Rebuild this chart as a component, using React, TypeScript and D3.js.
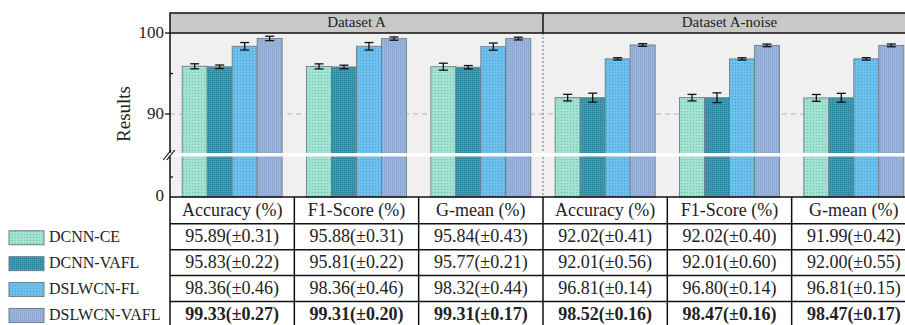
import React from "react";
import * as d3 from "d3";

// Metrics and datasets
const datasets = ["Dataset A", "Dataset A-noise"];
const metrics = ["Accuracy (%)", "F1-Score (%)", "G-mean (%)"];
const methods = ["DCNN-CE", "DCNN-VAFL", "DSLWCN-FL", "DSLWCN-VAFL"];

// Mean values per method, columns: A-Acc, A-F1, A-Gmean, N-Acc, N-F1, N-Gmean
const dcnnCE = [95.89, 95.88, 95.84, 92.02, 92.02, 91.99];
const dcnnCEStd = [0.31, 0.31, 0.43, 0.41, 0.4, 0.42];
const dcnnVAFL = [95.83, 95.81, 95.77, 92.01, 92.01, 92.0];
const dcnnVAFLStd = [0.22, 0.22, 0.21, 0.56, 0.6, 0.55];
const dslwcnFL = [98.36, 98.36, 98.32, 96.81, 96.8, 96.81];
const dslwcnFLStd = [0.46, 0.46, 0.44, 0.14, 0.14, 0.15];
const dslwcnVAFL = [99.33, 99.31, 99.31, 98.52, 98.47, 98.47];
const dslwcnVAFLStd = [0.27, 0.2, 0.17, 0.16, 0.16, 0.17];

const seriesMeans = [dcnnCE, dcnnVAFL, dslwcnFL, dslwcnVAFL];
const seriesStds = [dcnnCEStd, dcnnVAFLStd, dslwcnFLStd, dslwcnVAFLStd];

const upperTicks = [90, 100];
const upperMinor = [95];
const lowerTicks = [0];
const lowerMinor = [5];

const W = 905;
const H = 325;
const FONT = "'Liberation Serif', 'Times New Roman', serif";

const plotLeft = 170;
const headerTop = 13;
const plotTop = 33;
const plotBottom = 197;
const breakTop = 153;
const breakBottom = 156.5;

const fills = [
  { base: "#a2e2d2", dot: "#74bcab", step: 3 },
  { base: "#3a9eb6", dot: "#257a90", step: 2 },
  { base: "#6dbfec", dot: "#4a9dd0", step: 3 },
  { base: "#9bb5dc", dot: "#86a1cd", step: 2 },
];

export default function App() {
  const groups = d3.range(6).map(String);
  const step = 124.33;
  const x = d3
    .scaleBand<string>()
    .domain(groups)
    .range([plotLeft, plotLeft + step * 6])
    .paddingInner(0.196)
    .paddingOuter(0.098);
  const xs = d3.scaleBand<string>().domain(methods).range([0, x.bandwidth()]);

  const yUp = d3.scaleLinear().domain([85, 100]).range([154.5, plotTop]);
  const yLow = d3.scaleLinear().domain([0, 10]).range([plotBottom, 157]);

  const colLeft = (i: number) => plotLeft + i * x.step();
  const rightEdge = colLeft(6);

  const headerH = 26.8;
  const rowH = 25.9;
  const rowTop = (r: number) => (r === 0 ? plotBottom : plotBottom + headerH + (r - 1) * rowH);
  const rowMid = (r: number) => (r === 0 ? plotBottom + headerH / 2 : rowTop(r) + rowH / 2);

  const fmt = (v: number, s: number) => `${v.toFixed(2)}(±${s.toFixed(2)})`;

  return (
    <svg width={W} height={H} style={{ display: "block", position: "absolute", left: 0, top: 0 }}>
      <defs>
        {fills.map((f, i) => (
          <pattern key={i} id={`pat${i}`} width={f.step} height={f.step} patternUnits="userSpaceOnUse">
            <rect width={f.step} height={f.step} fill={f.base} />
            <rect x={0} y={0} width={1} height={1} fill={f.dot} />
            {i === 3 && <rect x={0} y={0} width={0.6} height={f.step} fill={f.dot} opacity={0.5} />}
          </pattern>
        ))}
      </defs>
      <rect width={W} height={H} fill="#fff" />

      {/* plot panel */}
      <rect x={plotLeft} y={plotTop} width={rightEdge - plotLeft} height={plotBottom - plotTop} fill="#f0f0f0" />

      {/* gridline at 90 */}
      {upperTicks
        .filter((t) => t < 100)
        .map((t) => (
          <line key={t} x1={plotLeft} x2={rightEdge} y1={yUp(t)} y2={yUp(t)} stroke="#b5b5b5" strokeDasharray="5,4" strokeWidth={1} />
        ))}

      {/* dataset separator */}
      <line x1={colLeft(3)} x2={colLeft(3)} y1={plotTop} y2={plotBottom} stroke="#9a9a9a" strokeDasharray="2,2" strokeWidth={1.5} />

      {/* bars */}
      {groups.map((g, gi) =>
        methods.map((m, si) => {
          const v = seriesMeans[si][gi];
          const bx = (x(g) as number) + (xs(m) as number);
          const bw = xs.bandwidth();
          return (
            <rect
              key={`${g}-${m}`}
              x={bx}
              y={yUp(v)}
              width={bw}
              height={plotBottom - yUp(v)}
              fill={`url(#pat${si})`}
              stroke="#6f7f86"
              strokeWidth={0.9}
            />
          );
        })
      )}

      {/* axis break band */}
      <rect x={plotLeft + 1} y={breakTop} width={rightEdge - plotLeft} height={breakBottom - breakTop} fill="#ffffff" />

      {/* error bars */}
      {groups.map((g, gi) =>
        methods.map((m, si) => {
          const v = seriesMeans[si][gi];
          const s = seriesStds[si][gi];
          const cx = (x(g) as number) + (xs(m) as number) + xs.bandwidth() / 2;
          const y1 = yUp(v + s);
          const y2 = yUp(v - s);
          return (
            <g key={`e-${g}-${m}`} stroke="#111" strokeWidth={1.3}>
              <line x1={cx} x2={cx} y1={y1} y2={y2} />
              <line x1={cx - 4.5} x2={cx + 4.5} y1={y1} y2={y1} />
              <line x1={cx - 4.5} x2={cx + 4.5} y1={y2} y2={y2} />
            </g>
          );
        })
      )}

      {/* header strip */}
      <rect x={plotLeft} y={headerTop} width={rightEdge - plotLeft} height={plotTop - headerTop} fill="#c8c8c8" stroke="#111" strokeWidth={1.5} />
      <line x1={colLeft(3)} x2={colLeft(3)} y1={headerTop} y2={plotTop} stroke="#111" strokeWidth={1.5} />
      {datasets.map((d, i) => (
        <text
          key={d}
          x={(colLeft(i * 3) + colLeft(i * 3 + 3)) / 2}
          y={(headerTop + plotTop) / 2 + 1}
          textAnchor="middle"
          dominantBaseline="middle"
          fontFamily={FONT}
          fontSize={15}
          fill="#222"
        >
          {d}
        </text>
      ))}

      {/* y axis */}
      <line x1={plotLeft} x2={plotLeft} y1={plotTop} y2={plotBottom} stroke="#111" strokeWidth={1.5} />
      {upperTicks.map((t) => (
        <g key={`ut${t}`}>
          <line x1={plotLeft - 5} x2={plotLeft} y1={yUp(t)} y2={yUp(t)} stroke="#111" strokeWidth={1.3} />
          <text x={plotLeft - 6} y={yUp(t) + 1} textAnchor="end" dominantBaseline="middle" fontFamily={FONT} fontSize={17} fill="#222">
            {t}
          </text>
        </g>
      ))}
      {upperMinor.map((t) => (
        <line key={`um${t}`} x1={plotLeft} x2={plotLeft + 3} y1={yUp(t)} y2={yUp(t)} stroke="#111" strokeWidth={1.3} />
      ))}
      {lowerTicks.map((t) => (
        <text key={`lt${t}`} x={plotLeft - 6} y={yLow(t)} textAnchor="end" dominantBaseline="middle" fontFamily={FONT} fontSize={17} fill="#222">
          {t}
        </text>
      ))}
      {lowerMinor.map((t) => (
        <line key={`lm${t}`} x1={plotLeft} x2={plotLeft + 3} y1={yLow(t)} y2={yLow(t)} stroke="#111" strokeWidth={1.3} />
      ))}
      {/* break marks */}
      <rect x={plotLeft - 1} y={breakTop} width={3} height={breakBottom - breakTop} fill="#fff" />
      {[-1.8, 1.8].map((o) => (
        <line key={o} x1={plotLeft - 5 + o} x2={plotLeft + 3 + o} y1={160} y2={150} stroke="#111" strokeWidth={1.2} />
      ))}

      <text
        transform={`translate(126, 114) rotate(-90)`}
        textAnchor="middle"
        dominantBaseline="middle"
        fontFamily={FONT}
        fontSize={19}
        fill="#222"
      >
        Results
      </text>

      {/* table */}
      <g fontFamily={FONT} fill="#222">
        {/* header row */}
        {groups.map((g, gi) => (
          <text
            key={`h${g}`}
            x={colLeft(gi) + x.step() / 2}
            y={rowMid(0) + 1}
            textAnchor="middle"
            dominantBaseline="middle"
            fontSize={18}
          >
            {metrics[gi % 3]}
          </text>
        ))}
        {methods.map((m, si) =>
          groups.map((g, gi) => (
            <text
              key={`c${m}${g}`}
              x={colLeft(gi) + x.step() / 2}
              y={rowMid(si + 1) + 1}
              textAnchor="middle"
              dominantBaseline="middle"
              fontSize={18}
              fontWeight={si === 3 ? "bold" : "normal"}
            >
              {fmt(seriesMeans[si][gi], seriesStds[si][gi])}
            </text>
          ))
        )}
        {/* legend */}
        {methods.map((m, si) => (
          <g key={`lg${m}`}>
            <rect x={9} y={rowMid(si + 1) - 6} width={35} height={14} fill={`url(#pat${si})`} stroke="#6f7f86" strokeWidth={1} />
            <text x={49} y={rowMid(si + 1) + 2} dominantBaseline="middle" fontSize={16}>
              {m}
            </text>
          </g>
        ))}
      </g>
      {/* table grid */}
      <g stroke="#111" strokeWidth={1.5}>
        {d3.range(6).map((r) => (
          <line key={`hr${r}`} x1={plotLeft} x2={rightEdge} y1={rowTop(r)} y2={rowTop(r)} />
        ))}
        {d3.range(7).map((c) => (
          <line key={`vc${c}`} x1={colLeft(c)} x2={colLeft(c)} y1={plotBottom} y2={H} />
        ))}
      </g>
    </svg>
  );
}
